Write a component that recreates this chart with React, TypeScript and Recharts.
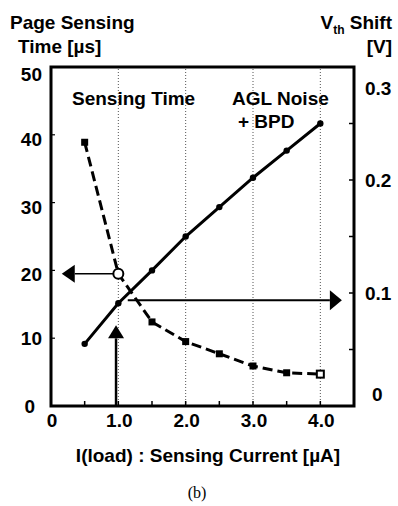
import React from "react";
import {
  LineChart,
  Line,
  XAxis,
  YAxis,
  ReferenceLine,
  ReferenceArea,
} from "recharts";

// sensing current I(load) [uA]
const currents = [0.5, 1.0, 1.5, 2.0, 2.5, 3.0, 3.5, 4.0];
// page sensing time [us] (dashed, left axis)
const sensingTime = [38.9, 19.5, 12.4, 9.5, 7.7, 5.9, 4.9, 4.7];
// Vth shift [V] (solid, right axis)
const vthShift = [0.055, 0.091, 0.12, 0.15, 0.176, 0.202, 0.226, 0.25];

const xTicks = [0, 0.5, 1, 1.5, 2, 2.5, 3, 3.5, 4, 4.5];
const gridXs = [1, 2, 3, 4];
const leftTicks = [0, 10, 20, 30, 40, 50];
const rightTicks = [0, 0.05, 0.1, 0.15, 0.2, 0.25, 0.3];
const rightLabels = [0, 0.1, 0.2, 0.3];

const data = currents.map((x, i) => ({
  x,
  time: sensingTime[i],
  vth: vthShift[i],
}));

const FONT = "'Liberation Sans', Arial, sans-serif";

function XTick({ x, y, payload }: any) {
  const v = payload.value as number;
  const edge = v === 0 || v === 4.5;
  const label = Number.isInteger(v) && v <= 4 ? (v === 0 ? "0" : v.toFixed(1)) : null;
  return (
    <g>
      {!edge && <line x1={x} y1={y} x2={x} y2={y - 5} stroke="#000" strokeWidth={1.5} />}
      {label && (
        <text x={x + 1} y={y + 21} textAnchor="middle" fontFamily={FONT} fontWeight="bold" fontSize={19} fill="#000">
          {label}
        </text>
      )}
    </g>
  );
}

function LeftTick({ x, y, payload }: any) {
  const v = payload.value as number;
  const dy = v === 50 ? 7 : v === 0 || v === 10 ? 0 : 4;
  return (
    <g>
      <line x1={x} y1={y} x2={x + 4} y2={y} stroke="#000" strokeWidth={1.2} />
      <text
        x={v === 0 ? x - 16 : x - 9}
        y={y + dy + 7}
        textAnchor="end"
        fontFamily={FONT}
        fontWeight="bold"
        fontSize={19}
        fill="#000"
      >
        {v}
      </text>
    </g>
  );
}

function RightTick({ x, y, payload }: any) {
  const v = payload.value as number;
  const show = rightLabels.includes(v);
  const cy = v === 0.3 ? y + 21 : v === 0 ? y - 12 : y;
  return (
    <g>
      {v !== 0 && v !== 0.3 && <line x1={x - 5} y1={y} x2={x} y2={y} stroke="#000" strokeWidth={1.5} />}
      {show && (
        <text
          x={v === 0 ? x + 18 : x + 11}
          y={cy + 7}
          textAnchor="start"
          fontFamily={FONT}
          fontWeight="bold"
          fontSize={19}
          fill="#000"
        >
          {v === 0 ? "0" : v.toFixed(1)}
        </text>
      )}
    </g>
  );
}

function TimeDot({ cx, cy, index }: any) {
  if (index === 1) {
    return <circle key={index} cx={cx} cy={cy} r={5} fill="#fff" stroke="#000" strokeWidth={2} />;
  }
  if (index === currents.length - 1) {
    return <rect key={index} x={cx - 3.5} y={cy - 3.5} width={7} height={7} fill="#fff" stroke="#000" strokeWidth={2} />;
  }
  return <rect key={index} x={cx - 3.5} y={cy - 3.5} width={7} height={7} fill="#000" />;
}

function VthDot({ cx, cy, index }: any) {
  return <circle key={index} cx={cx} cy={cy} r={3.2} fill="#000" />;
}

function arrow(p: any, headLen: number, headHalf: number, width: number) {
  const { x1, y1, x2, y2 } = p;
  const dx = x2 - x1;
  const dy = y2 - y1;
  const len = Math.sqrt(dx * dx + dy * dy) || 1;
  const ux = dx / len;
  const uy = dy / len;
  const bx = x2 - ux * headLen;
  const by = y2 - uy * headLen;
  const px = -uy * headHalf;
  const py = ux * headHalf;
  return (
    <g>
      <line x1={x1} y1={y1} x2={bx} y2={by} stroke="#000" strokeWidth={width} />
      <polygon points={`${x2},${y2} ${bx + px},${by + py} ${bx - px},${by - py}`} fill="#000" />
    </g>
  );
}

export default function App() {
  return (
    <div style={{ position: "absolute", left: 0, top: 0, width: 398, height: 506, background: "#fff" }}>
      <LineChart width={398} height={506} data={data} margin={{ top: 67, right: 0, bottom: 0, left: 0 }}>
        <XAxis
          dataKey="x"
          type="number"
          domain={[0, 4.5]}
          ticks={xTicks}
          interval={0}
          height={100}
          tickSize={0}
          tickMargin={0}
          axisLine={false}
          tickLine={false}
          tick={<XTick />}
        />
        <YAxis
          yAxisId="left"
          domain={[0, 50]}
          ticks={leftTicks}
          interval={0}
          width={51}
          tickSize={0}
          tickMargin={0}
          axisLine={false}
          tickLine={false}
          tick={<LeftTick />}
        />
        <YAxis
          yAxisId="right"
          orientation="right"
          domain={[0, 0.3]}
          ticks={rightTicks}
          interval={0}
          width={44}
          tickSize={0}
          tickMargin={0}
          axisLine={false}
          tickLine={false}
          tick={<RightTick />}
        />
        {gridXs.map((gx) => (
          <ReferenceLine key={gx} x={gx} yAxisId="left" stroke="#555" strokeWidth={1} strokeDasharray="1 2" />
        ))}
        <ReferenceArea
          x1={0}
          x2={4.5}
          y1={0}
          y2={50}
          yAxisId="left"
          fill="none"
          fillOpacity={0}
          stroke="#000"
          strokeWidth={3}
        />
        <Line
          yAxisId="left"
          dataKey="time"
          type="linear"
          stroke="#000"
          strokeWidth={3}
          strokeDasharray="10 5"
          dot={<TimeDot />}
          activeDot={false}
          isAnimationActive={false}
        />
        <Line
          yAxisId="right"
          dataKey="vth"
          type="linear"
          stroke="#000"
          strokeWidth={3}
          dot={<VthDot />}
          activeDot={false}
          isAnimationActive={false}
        />
        <ReferenceLine
          yAxisId="left"
          segment={[{ x: 0.93, y: 19.5 }, { x: 0.16, y: 19.5 }]}
          shape={(p: any) => arrow(p, 13, 9, 1.5)}
        />
        <ReferenceLine
          yAxisId="left"
          segment={[{ x: 1.14, y: 15.6 }, { x: 4.32, y: 15.6 }]}
          shape={(p: any) => arrow(p, 12, 10, 2)}
        />
        <ReferenceLine
          yAxisId="left"
          segment={[{ x: 0.966, y: 0 }, { x: 0.966, y: 11.9 }]}
          shape={(p: any) => arrow(p, 13, 8, 2.5)}
        />
        <text x={10} y={29} fontFamily={FONT} fontWeight="bold" fontSize={19} fill="#000">
          Page Sensing
        </text>
        <text x={18} y={53} fontFamily={FONT} fontWeight="bold" fontSize={19} fill="#000">
          Time [µs]
        </text>
        <text x={392} y={29} textAnchor="end" fontFamily={FONT} fontWeight="bold" fontSize={19} fill="#000">
          V
          <tspan fontSize={12} dy={5}>
            th
          </tspan>
          <tspan dy={-5}> Shift</tspan>
        </text>
        <text x={392} y={53} textAnchor="end" fontFamily={FONT} fontWeight="bold" fontSize={19} fill="#000">
          [V]
        </text>
        <text x={72} y={105} fontFamily={FONT} fontWeight="bold" fontSize={19} fill="#000">
          Sensing Time
        </text>
        <text x={232} y={105} fontFamily={FONT} fontWeight="bold" fontSize={19} fill="#000">
          AGL Noise
        </text>
        <text x={238} y={128} fontFamily={FONT} fontWeight="bold" fontSize={19} fill="#000">
          + BPD
        </text>
        <text x={208} y={462} textAnchor="middle" fontFamily={FONT} fontWeight="bold" fontSize={19} fill="#000">
          I(load) : Sensing Current [µA]
        </text>
        <text x={197} y={498} textAnchor="middle" fontFamily="'Liberation Serif', 'Times New Roman', serif" fontSize={16} fill="#000">
          (b)
        </text>
      </LineChart>
    </div>
  );
}
